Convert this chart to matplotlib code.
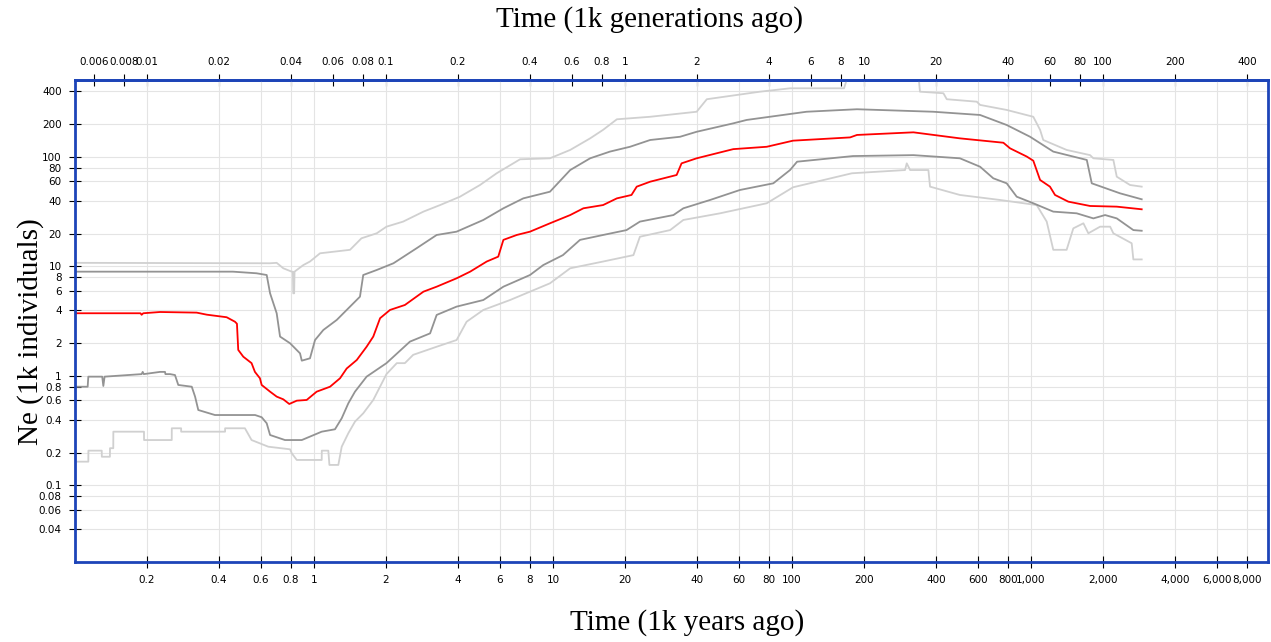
import matplotlib
matplotlib.use("Agg")
import matplotlib.pyplot as plt
from matplotlib.ticker import NullLocator

# time in 1k years ago, Ne in 1k individuals
med_t = [0.100, 0.188, 0.190, 0.193, 0.227, 0.323, 0.356, 0.431, 0.467, 0.476, 0.482, 0.506, 0.548,
         0.566, 0.594, 0.604, 0.655, 0.698, 0.744, 0.788, 0.847, 0.932, 1.026, 1.167, 1.285, 1.37,
         1.51, 1.66, 1.77, 1.89, 2.08, 2.40, 2.87, 3.26, 3.95, 4.50, 5.28, 5.90, 6.20, 7.05, 8.01,
         9.71, 11.8, 13.4, 16.2, 18.5, 21.3, 22.4, 25.5, 32.9, 34.5, 39.9, 51.6, 56.8, 78.4, 101,
         175, 187, 322, 504, 766, 817, 959, 1022, 1091, 1200, 1260, 1432, 1766, 2284, 2904]
med_ne = [3.74, 3.74, 3.62, 3.74, 3.84, 3.79, 3.63, 3.44, 3.13, 3.0, 1.73, 1.50, 1.31,
          1.09, 0.953, 0.828, 0.719, 0.648, 0.612, 0.555, 0.595, 0.604, 0.719, 0.798, 0.953, 1.17,
          1.40, 1.85, 2.29, 3.37, 4.01, 4.45, 5.89, 6.54, 7.80, 8.97, 11.1, 12.3, 17.5, 19.4, 20.8,
          24.8, 29.5, 34.0, 36.4, 41.9, 45.0, 53.6, 59.5, 68.5, 87.5, 97.3, 112, 118, 124, 141,
          151, 159, 168, 148, 135, 120, 101, 92.5, 61.7, 53.6, 45.0, 39.1, 35.7, 35.2, 33.3]

hi50_t = [0.100, 0.458, 0.575, 0.634, 0.655, 0.698, 0.721, 0.794, 0.874, 0.889, 0.962, 1.01, 1.094,
          1.245, 1.415, 1.557, 1.607, 1.83, 2.15, 2.69, 3.26, 3.95, 5.11, 6.20, 7.51, 9.71, 11.8,
          14.3, 17.3, 21.0, 25.5, 34.0, 39.9, 56.8, 64.6, 115, 187, 390, 612, 791, 991, 1239,
          1711, 1795, 2356, 2904]
hi50_ne = [8.97, 8.97, 8.67, 8.36, 5.69, 3.74, 2.29, 1.99, 1.61, 1.38, 1.45, 2.13, 2.63,
           3.25, 4.30, 5.30, 8.36, 9.29, 10.7, 14.7, 19.4, 20.8, 26.6, 34.0, 41.9, 48.2, 76.0,
           97.3, 112, 124, 143, 153, 170, 203, 218, 259, 273, 259, 242, 196, 153, 112,
           94.0, 57.5, 46.6, 41.1]

lo50_t = [0.100, 0.113, 0.1137, 0.130, 0.1314, 0.133, 0.190, 0.192, 0.194, 0.227, 0.238, 0.239,
          0.250, 0.262, 0.2705, 0.308, 0.318, 0.328, 0.385, 0.567, 0.604, 0.634, 0.655, 0.756,
          0.889, 1.077, 1.224, 1.306, 1.392, 1.484, 1.66, 2.01, 2.52, 3.06, 3.26, 3.95, 5.11,
          6.20, 8.01, 9.10, 11.0, 12.97, 16.2, 20.3, 23.1, 31.9, 35.1, 45.4, 60.6, 83.5, 98.1,
          105, 180, 322, 504, 612, 695, 791, 871, 1022, 1239, 1552, 1823, 2041, 2284, 2680, 2904]
lo50_ne = [0.798, 0.798, 0.986, 0.986, 0.81, 0.986, 1.04, 1.09, 1.04, 1.09, 1.09, 1.04,
           1.04, 1.02, 0.828, 0.798, 0.648, 0.489, 0.440, 0.440, 0.42, 0.370, 0.289, 0.260,
           0.260, 0.310, 0.326, 0.411, 0.563, 0.719, 0.986, 1.31, 2.06, 2.45, 3.61, 4.30, 4.94,
           6.54, 8.36, 10.3, 12.7, 17.5, 19.4, 21.5, 25.7, 29.5, 34.0, 40.5, 50.0, 57.5, 76.0,
           90.6, 102, 104, 97.3, 81.5, 63.9, 57.5, 43.4, 37.8, 31.7, 30.6, 27.5, 29.5, 27.5, 21.5, 21.2]

hi95_t = [0.100, 0.655, 0.698, 0.744, 0.807, 0.816, 0.819, 0.826, 0.829, 0.902, 0.962, 1.06, 1.415,
          1.58, 1.83, 2.01, 2.36, 2.87, 3.37, 4.08, 4.95, 5.81, 7.28, 9.71, 11.8, 14.3, 16.2, 18.5,
          25.5, 39.9, 44.0, 73.5, 98.1, 165, 172, 338, 343, 430, 444, 593, 612, 791, 1022, 1091,
          1125, 1409, 1766, 1823, 2210, 2284, 2595, 2904]
hi95_ne = [10.8, 10.7, 10.8, 9.63, 8.97, 8.97, 5.69, 5.69, 8.97, 10.3, 11.1, 13.2, 14.2,
           18.1, 20.1, 23.1, 25.7, 31.7, 36.4, 43.4, 55.5, 71.0, 95.3, 97.3, 116, 148, 177, 221,
           233, 259, 337, 395, 424, 424, 560, 560, 395, 382, 337, 320, 299, 269, 233, 177,
           143, 116, 104, 97.3, 94.0, 66.1, 55.5, 53.6]

lo95_t = [0.100, 0.1137, 0.1138, 0.1294, 0.1295, 0.140, 0.1401, 0.1446, 0.1447, 0.1944, 0.1945,
          0.254, 0.2541, 0.278, 0.2781, 0.4246, 0.4247, 0.514, 0.548, 0.644, 0.794, 0.807, 0.847,
          1.077, 1.078, 1.148, 1.16, 1.264, 1.306, 1.392, 1.484, 1.607, 1.77, 2.01, 2.22, 2.40,
          2.60, 3.26, 3.95, 4.35, 5.11, 6.61, 8.01, 9.71, 11.8, 16.2, 21.7, 23.1, 30.9, 35.1,
          50.0, 78.4, 101, 178, 297, 302, 312, 372, 378, 504, 742, 1056, 1163, 1239, 1409, 1503,
          1656, 1737, 1945, 2143, 2210, 2637, 2680, 2904]
lo95_ne = [0.165, 0.165, 0.208, 0.208, 0.183, 0.183, 0.219, 0.219, 0.310, 0.310, 0.260,
           0.260, 0.333, 0.333, 0.310, 0.310, 0.333, 0.333, 0.260, 0.226, 0.214, 0.197, 0.171,
           0.171, 0.208, 0.208, 0.154, 0.154, 0.226, 0.300, 0.383, 0.456, 0.604, 1.04, 1.31, 1.31,
           1.56, 1.85, 2.13, 3.13, 4.01, 4.94, 5.89, 7.02, 9.63, 11.1, 12.7, 18.7, 21.5, 26.6,
           30.6, 37.8, 52.9, 71.0, 76.0, 87.5, 76.0, 76.0, 53.6, 45.0, 40.5, 36.4, 25.7, 14.2, 14.2,
           22.3, 24.8, 20.1, 23.1, 23.1, 20.1, 16.3, 11.6, 11.6]

gen_years = 20  # years per generation (top axis)
x_ticks = [0.2, 0.4, 0.6, 0.8, 1, 2, 4, 6, 8, 10, 20, 40, 60, 80, 100, 200, 400, 600, 800,
           1000, 2000, 4000, 6000, 8000]
x_labels = ["0.2", "0.4", "0.6", "0.8", "1", "2", "4", "6", "8", "10", "20", "40", "60", "80",
            "100", "200", "400", "600", "800", "1,000", "2,000", "4,000", "6,000", "8,000"]
top_ticks = [0.006, 0.008, 0.01, 0.02, 0.04, 0.06, 0.08, 0.1, 0.2, 0.4, 0.6, 0.8, 1, 2, 4, 6,
             8, 10, 20, 40, 60, 80, 100, 200, 400]
top_labels = ["0.006", "0.008", "0.01", "0.02", "0.04", "0.06", "0.08", "0.1", "0.2", "0.4",
              "0.6", "0.8", "1", "2", "4", "6", "8", "10", "20", "40", "60", "80", "100", "200", "400"]
y_ticks = [0.04, 0.06, 0.08, 0.1, 0.2, 0.4, 0.6, 0.8, 1, 2, 4, 6, 8, 10, 20, 40, 60, 80, 100,
           200, 400]
y_labels = ["0.04", "0.06", "0.08", "0.1", "0.2", "0.4", "0.6", "0.8", "1", "2", "4", "6", "8",
            "10", "20", "40", "60", "80", "100", "200", "400"]

spine_col = "#1d44b8"
tick_kw = dict(direction="inout", length=9, width=0.8, labelsize=7.5, pad=5)

fig = plt.figure(figsize=(12.71, 6.42), dpi=100)
ax = fig.add_axes([0.059, 0.1246, 0.9386, 0.7508])
ax.set_xscale("log")
ax.set_yscale("log")
ax.set_xlim(0.1, 9800)
ax.set_ylim(0.02, 505)

ax.plot(hi95_t, hi95_ne, color="#d0d0d0", lw=1.3)
ax.plot(lo95_t, lo95_ne, color="#d0d0d0", lw=1.3)
ax.plot(hi50_t, hi50_ne, color="#939393", lw=1.3)
ax.plot(lo50_t, lo50_ne, color="#939393", lw=1.3)
ax.plot(med_t, med_ne, color="#ff0000", lw=1.3)

ax.set_xticks(x_ticks, x_labels)
ax.set_yticks(y_ticks, y_labels)
ax.xaxis.set_minor_locator(NullLocator())
ax.yaxis.set_minor_locator(NullLocator())
ax.grid(True, color="#e4e4e4", lw=0.8)
ax.set_axisbelow(True)
ax.tick_params(**tick_kw)
for s in ax.spines.values():
    s.set_color(spine_col)
    s.set_linewidth(2)

top = ax.secondary_xaxis("top", functions=(lambda x: x / gen_years, lambda g: g * gen_years))
top.set_xticks(top_ticks, top_labels)
top.xaxis.set_minor_locator(NullLocator())
top.tick_params(**tick_kw)
top.spines["top"].set_color(spine_col)
top.spines["top"].set_linewidth(2)

serif = "Liberation Serif"
fig.text(0.511, 0.969, "Time (1k generations ago)", family=serif, fontsize=21, ha="center", va="center")
fig.text(0.541, 0.031, "Time (1k years ago)", family=serif, fontsize=21, ha="center", va="center")
fig.text(0.024, 0.483, "Ne (1k individuals)", family=serif, fontsize=21, ha="center", va="center",
         rotation=90)

fig.savefig("out.png", dpi=100)
